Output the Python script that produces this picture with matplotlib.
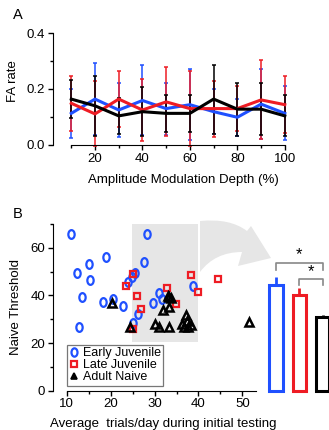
import numpy as np
import matplotlib
matplotlib.use("Agg")
import matplotlib.pyplot as plt
from matplotlib.path import Path
from matplotlib.patches import PathPatch, Rectangle
from matplotlib.lines import Line2D
from matplotlib.ticker import MultipleLocator

plt.rcParams['font.family'] = ['Liberation Sans', 'DejaVu Sans']
plt.rcParams['font.size'] = 9.5

###############################################################################
# Datos panel A (FA rate vs profundidad de modulacion)
###############################################################################
depth = [10, 20, 30, 40, 50, 60, 70, 80, 90, 100]
fa_early = [0.113, 0.164, 0.125, 0.159, 0.130, 0.144, 0.119, 0.099, 0.146, 0.113]
fa_early_err = [0.087, 0.130, 0.095, 0.125, 0.093, 0.127, 0.081, 0.066, 0.126, 0.096]
fa_late = [0.149, 0.111, 0.164, 0.125, 0.154, 0.130, 0.130, 0.130, 0.161, 0.144]
fa_late_err = [0.098, 0.116, 0.099, 0.110, 0.123, 0.133, 0.100, 0.081, 0.141, 0.101]
fa_adult = [0.164, 0.140, 0.104, 0.119, 0.113, 0.113, 0.164, 0.128, 0.128, 0.104]
fa_adult_err = [0.069, 0.107, 0.065, 0.088, 0.066, 0.066, 0.123, 0.095, 0.093, 0.073]

###############################################################################
# Datos panel B (umbral vs ensayos/dia)
###############################################################################
early_trials = [11.0, 28.2, 19.0, 15.1, 27.7, 12.4, 15.3, 25.6, 24.0, 38.7, 13.4,
                18.3, 20.6, 22.8, 31.1, 31.6, 29.7, 26.3, 12.9, 25.2, 24.8]
early_thr = [65.8, 65.8, 56.2, 53.0, 53.9, 49.3, 46.5, 49.5, 45.7, 43.9, 39.4,
             37.3, 38.3, 35.5, 41.1, 38.5, 36.9, 32.1, 26.9, 28.3, 47.6]
late_trials = [23.5, 25.0, 25.9, 26.9, 25.0, 32.9, 34.9, 38.2, 40.0, 44.5]
late_thr = [43.9, 49.0, 39.7, 34.2, 25.8, 43.0, 36.4, 48.6, 41.6, 46.7]
adult_trials = [20.4, 24.3, 30.1, 31.0, 33.4, 31.9, 33.4, 33.4, 33.1, 33.7,
                36.2, 36.6, 37.2, 37.3, 37.7, 38.2, 51.4]
adult_thr = [36.7, 26.9, 28.0, 26.6, 26.9, 33.9, 35.0, 39.4, 39.9, 38.9,
             28.0, 26.9, 31.8, 29.4, 26.9, 27.6, 29.0]

group_labels = ['Early Juvenile', 'Late Juvenile', 'Adult Naive']
group_means = [44.4, 40.2, 30.8]
group_sem = [3.2, 2.8, 1.0]
highlight_x = [24.9, 40.0]
highlight_y = [20.6, 70.0]

BLUE = '#1f50ff'
RED = '#ee1c24'
BLACK = '#000000'
GRAY = '#e6e6e6'

W, H = 329, 430
def fx(px):
    return px / W
def fy(py):
    return 1 - py / H

fig = plt.figure(figsize=(W / 100, H / 100), dpi=100)

###############################################################################
""" Panel A """
###############################################################################
axA = fig.add_axes([fx(53), fy(145), (286 - 53) / W, (145 - 33) / H])
for y, e, c in [(fa_early, fa_early_err, BLUE), (fa_late, fa_late_err, RED),
                (fa_adult, fa_adult_err, BLACK)]:
    axA.errorbar(depth, y, yerr=e, color=c, lw=2.2, elinewidth=1.1,
                 capsize=1.6, capthick=1.1, clip_on=False)
axA.set_xlim(2.3, 100.5)
axA.set_ylim(0, 0.4)
axA.set_yticks([0.0, 0.2, 0.4])
axA.set_yticklabels(['0.0', '0.2', '0.4'])
axA.yaxis.set_minor_locator(MultipleLocator(0.1))
axA.set_xticks([20, 40, 60, 80, 100])
axA.xaxis.set_minor_locator(MultipleLocator(10))
axA.spines['top'].set_visible(False)
axA.spines['right'].set_visible(False)
axA.spines['bottom'].set_bounds(10, 100)
axA.tick_params(which='both', direction='out', width=1, labelsize=9.5, pad=2)
axA.tick_params(which='major', length=3.5)
axA.tick_params(which='minor', length=2.5)
axA.set_xlabel('Amplitude Modulation Depth (%)', fontsize=9.5)
axA.xaxis.set_label_coords(fx(183), fy(174), transform=fig.transFigure)
axA.set_ylabel('FA rate', fontsize=9.5)
axA.yaxis.set_label_coords(fx(19), fy(81), transform=fig.transFigure)
fig.text(fx(18), fy(15), 'A', fontsize=10.5, ha='center', va='center')

###############################################################################
""" Panel B """
###############################################################################
axB = fig.add_axes([fx(52.7), fy(390.7), (256 - 52.7) / W, (390.7 - 224) / H])
axB.add_patch(Rectangle((highlight_x[0], highlight_y[0]),
                        highlight_x[1] - highlight_x[0],
                        highlight_y[1] - highlight_y[0],
                        facecolor=GRAY, edgecolor='none', zorder=0))

circ = Path.unit_circle()
ellipse = Path(circ.vertices * np.array([0.72, 1.0]), circ.codes)

axB.plot(early_trials, early_thr, ls='none', marker=ellipse, ms=6.3,
         mfc='none', mec=BLUE, mew=1.6, clip_on=False)
axB.plot(late_trials, late_thr, ls='none', marker='s', ms=4.8,
         mfc='none', mec=RED, mew=1.6, clip_on=False)
axB.plot(adult_trials, adult_thr, ls='none', marker='^', ms=5.2,
         mfc='none', mec=BLACK, mew=1.8, clip_on=False)

axB.set_xlim(6.81, 53.1)
axB.set_ylim(0, 70)
axB.set_xticks([10, 20, 30, 40, 50])
axB.xaxis.set_minor_locator(MultipleLocator(5))
axB.set_yticks([0, 20, 40, 60])
axB.yaxis.set_minor_locator(MultipleLocator(10))
axB.spines['top'].set_visible(False)
axB.spines['right'].set_visible(False)
axB.spines['bottom'].set_bounds(10, 53.1)
axB.tick_params(which='both', direction='out', width=1, labelsize=9.5, pad=2)
axB.tick_params(which='major', length=3.5)
axB.tick_params(which='minor', length=2.5)
axB.set_xlabel('Average  trials/day during initial testing', fontsize=9.5)
axB.xaxis.set_label_coords(fx(163), fy(418), transform=fig.transFigure)
axB.set_ylabel('Naive Threshold', fontsize=9.5)
axB.yaxis.set_label_coords(fx(22), fy(307), transform=fig.transFigure)
fig.text(fx(18), fy(214), 'B', fontsize=10.5, ha='center', va='center')

handles = [
    Line2D([], [], ls='none', marker=ellipse, ms=6, mfc='none', mec=BLUE, mew=1.6),
    Line2D([], [], ls='none', marker='s', ms=4.8, mfc='none', mec=RED, mew=1.6),
    Line2D([], [], ls='none', marker='^', ms=4.8, mfc=BLACK, mec=BLACK, mew=1.2),
]
leg = axB.legend(handles, group_labels,
                 loc='lower left', bbox_to_anchor=(fx(66.7), fy(385.5)),
                 bbox_transform=fig.transFigure, borderaxespad=0,
                 fontsize=9, frameon=True, fancybox=False, borderpad=0.2,
                 labelspacing=0.0, handletextpad=0.3, handlelength=0.8)
leg.get_frame().set_edgecolor('#555555')
leg.get_frame().set_linewidth(0.9)

# flecha curva gris
pts = [(200, 221), (230, 218), (247, 231), (251, 226), (271, 258),
       (238, 266), (242, 252), (215, 252), (200, 272), (200, 221)]
codes = [Path.MOVETO, Path.CURVE3, Path.CURVE3, Path.LINETO, Path.LINETO,
         Path.LINETO, Path.LINETO, Path.CURVE3, Path.CURVE3, Path.CLOSEPOLY]
arrow = Path([(fx(a), fy(b)) for a, b in pts], codes)
fig.patches.append(PathPatch(arrow, facecolor=GRAY, edgecolor='none',
                             transform=fig.transFigure, figure=fig))

###############################################################################
""" Barras resumen """
###############################################################################
step = 23.3
axC = fig.add_axes([fx(276 - 0.6 * step), fy(390.7), 3.5 * step / W, (390.7 - 224) / H])
axC.set_xlim(-0.6, 2.9)
axC.set_ylim(0, 70)
axC.axis('off')
pos = np.arange(3)
cols = [BLUE, RED, BLACK]
axC.bar(pos, group_means, width=0.56, facecolor='white', edgecolor=cols,
        linewidth=2.2, clip_on=False)
for p, m, e, c in zip(pos, group_means, group_sem, cols):
    axC.errorbar([p], [m], yerr=[[0], [e]], color=c, elinewidth=2, capsize=0,
                 clip_on=False)

def bracket(x0, x1, y, drop):
    axC.plot([x0, x0, x1, x1], [y - drop, y, y, y - drop], color='#888888',
             lw=1.2, clip_on=False)
    axC.text((x0 + x1) / 2, y + 0.3, '*', ha='center', va='bottom', fontsize=12)

bracket(0, 2, 53.7, 3.1)
bracket(1, 2, 46.7, 2.4)

fig.savefig('out.png', dpi=100)
